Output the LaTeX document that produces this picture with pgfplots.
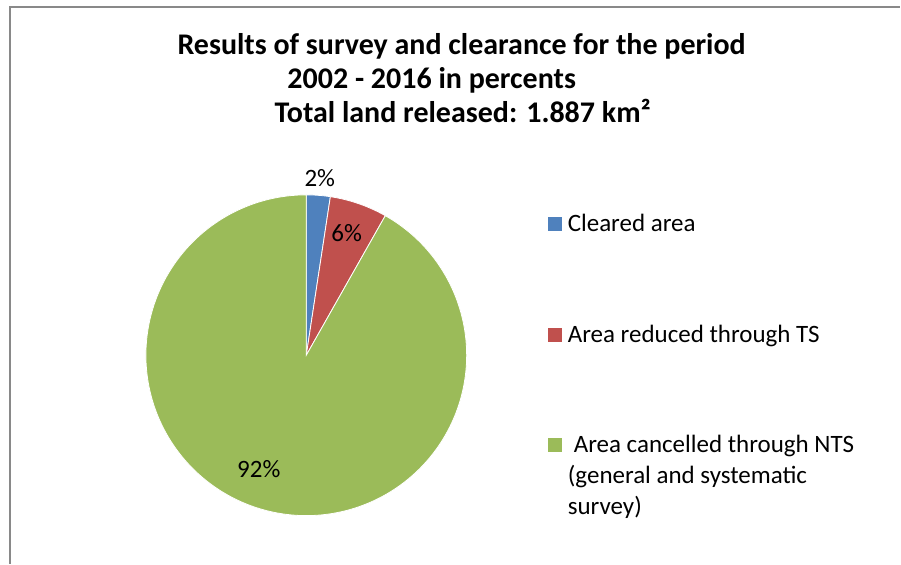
\documentclass[border=0pt]{standalone}
\usepackage{pgfplots}
\pgfplotsset{compat=1.18}
\usepackage{pgfplotstable}
\usepackage{fontspec}
\setmainfont{Carlito}
\definecolor{pblue}{HTML}{4F81BD}
\definecolor{pred}{HTML}{C0504D}
\definecolor{pgreen}{HTML}{9BBB59}
\definecolor{frame}{HTML}{898989}

\pgfplotstableread{
name value
Cleared 2.4
Reduced 5.8
Cancelled 91.8
}\piedata
\pgfplotstablegetelem{0}{value}\of\piedata \let\va\pgfplotsretval
\pgfplotstablegetelem{1}{value}\of\piedata \let\vb\pgfplotsretval
\pgfplotstablegetelem{2}{value}\of\piedata \let\vc\pgfplotsretval
\pgfmathsetmacro\aA{90}
\pgfmathsetmacro\aB{90-3.6*\va}
\pgfmathsetmacro\aC{\aB-3.6*\vb}
\pgfmathsetmacro\aD{\aC-3.6*\vc}
\def\cx{306.5}
\def\cy{208.5}
\def\rr{160.5}

\begin{document}
\begin{tikzpicture}
\begin{axis}[width=901pt,height=564pt,scale only axis,
  xmin=0,xmax=901,ymin=0,ymax=564,hide axis,clip=false]
\path (axis cs:0,0) rectangle (axis cs:901,564);
\draw[frame,line width=1.3pt] (axis cs:10,0) -- (axis cs:10,557) -- (axis cs:901,557);
% pie
\addplot[draw=white,line width=0.8pt,fill=pblue,domain=\aB:\aA,samples=20,variable=\t]
  ({\cx+\rr*cos(\t)},{\cy+\rr*sin(\t)}) -- (axis cs:\cx,\cy) -- cycle;
\addplot[draw=white,line width=0.8pt,fill=pred,domain=\aC:\aB,samples=30,variable=\t]
  ({\cx+\rr*cos(\t)},{\cy+\rr*sin(\t)}) -- (axis cs:\cx,\cy) -- cycle;
\addplot[draw=white,line width=0.8pt,fill=pgreen,domain=\aD:\aC,samples=240,variable=\t]
  ({\cx+\rr*cos(\t)},{\cy+\rr*sin(\t)}) -- (axis cs:\cx,\cy) -- cycle;
% data labels
\node[font=\fontsize{25}{30}\selectfont] at (axis cs:320,386) {2\%};
\node[font=\fontsize{25}{30}\selectfont] at (axis cs:347,331) {6\%};
\node[font=\fontsize{25}{30}\selectfont] at (axis cs:259,95) {92\%};
% title
\node[font=\fontsize{30}{34}\selectfont\bfseries,anchor=base] at (axis cs:462,509) {Results of survey and clearance for the period};
\node[font=\fontsize{30}{34}\selectfont\bfseries,anchor=base] at (axis cs:432,475) {2002 - 2016 in percents};
\node[font=\fontsize{30}{34}\selectfont\bfseries,anchor=base] at (axis cs:463,441) {Total land released: 1.887 km²};
% legend
\addplot[only marks,mark=square*,mark size=6.5pt,color=pblue] coordinates {(555.5,340)};
\addplot[only marks,mark=square*,mark size=6.5pt,color=pred] coordinates {(555.5,229)};
\addplot[only marks,mark=square*,mark size=6.5pt,color=pgreen] coordinates {(555.5,119)};
\node[font=\fontsize{25}{31}\selectfont,anchor=base west,inner sep=0pt] at (axis cs:568,332) {Cleared area};
\node[font=\fontsize{25}{31}\selectfont,anchor=base west,inner sep=0pt] at (axis cs:568,221) {Area reduced through TS};
\node[font=\fontsize{25}{31}\selectfont,anchor=base west,inner sep=0pt] at (axis cs:574,111) {Area cancelled through NTS};
\node[font=\fontsize{25}{31}\selectfont,anchor=base west,inner sep=0pt] at (axis cs:568,80) {(general and systematic};
\node[font=\fontsize{25}{31}\selectfont,anchor=base west,inner sep=0pt] at (axis cs:568,49) {survey)};
\end{axis}
\end{tikzpicture}
\end{document}
